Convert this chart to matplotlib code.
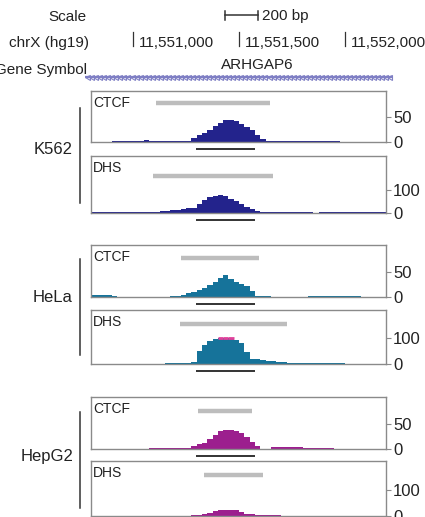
import numpy as np
import matplotlib
matplotlib.use("Agg")
import matplotlib.pyplot as plt
from matplotlib.lines import Line2D
import matplotlib.transforms as mtransforms

plt.rcParams['font.family'] = ['Liberation Sans', 'DejaVu Sans']

# ---------------- data ----------------
x_start, x_end = 11550802, 11552193
bin_start, bin_width = 11550800, 25
n_bins = 56

cell_lines = ["K562", "HeLa", "HepG2"]
track_names = ["CTCF", "DHS"]
colors = {"K562": "#23238c", "HeLa": "#16739a", "HepG2": "#9c1f8e"}

k562_ctcf = [1, 1, 1, 1, 1.5, 1.5, 1.5, 1.5, 1.5, 1.5, 5, 2, 1.5, 1.5, 1.5, 3, 2, 2, 2,
             8, 14, 18, 24, 32, 38, 44, 45, 43, 36, 30, 24, 14, 6, 3,
             2, 2, 2, 2, 2, 2, 2, 1.5, 1.5, 1.5, 1.5, 1.5, 1.5,
             0.5, 0.5, 0.5, 0.5, 0.5, 0.5, 0.5, 0.5, 0.5]
k562_dhs = [6] * 13 + [8, 10, 12, 14, 16, 20, 22,
                       40, 58, 68, 76, 78, 72, 62, 52, 40, 28, 18, 10, 6] + [5] * 9 + [0] + [4] * 13
hela_ctcf = [4, 4, 4, 4, 3] + [0] * 10 + [2, 2, 5, 8, 11, 14, 19, 24, 30, 38, 44, 36, 30, 27, 23, 12, 3, 2, 2] \
    + [1] * 6 + [0.5] + [3] * 6 + [1.5] * 4 + [0] * 5
hela_dhs = [0] * 11 + [1] * 3 + [3] + [4] * 4 + [6] \
    + [50, 72, 88, 95, 100, 100, 100, 92, 80, 45, 20, 18, 14, 12, 11, 8, 7, 2] + [2] * 10 + [0] * 8
hepg2_ctcf = [0] * 11 + [2] + [3] * 7 + [6, 11, 12, 20, 28, 36, 39, 39, 36, 32, 24, 14, 6, 0, 0] \
    + [4] * 6 + [3] * 4 + [1.5] * 2 + [0] * 10
hepg2_dhs = [0] * 19 + [2, 3, 8, 12, 18, 22, 24, 24, 22, 16, 9, 7, 2] + [2] * 4 + [0] * 20

signals = {
    ("K562", "CTCF"): k562_ctcf, ("K562", "DHS"): k562_dhs,
    ("HeLa", "CTCF"): hela_ctcf, ("HeLa", "DHS"): hela_dhs,
    ("HepG2", "CTCF"): hepg2_ctcf, ("HepG2", "DHS"): hepg2_dhs,
}
# peak calls (grey bars)
peaks = {
    ("K562", "CTCF"): (11551109, 11551646), ("K562", "DHS"): (11551094, 11551660),
    ("HeLa", "CTCF"): (11551226, 11551594), ("HeLa", "DHS"): (11551222, 11551727),
    ("HepG2", "CTCF"): (11551307, 11551561), ("HepG2", "DHS"): (11551335, 11551613),
}
region = (11551297, 11551576)  # black bar under each track
ylims = {
    ("K562", "CTCF"): 102, ("K562", "DHS"): 248,
    ("HeLa", "CTCF"): 104, ("HeLa", "DHS"): 205,
    ("HepG2", "CTCF"): 104, ("HepG2", "DHS"): 210,
}
yticks = {"CTCF": [0, 50], "DHS": [0, 100]}
hela_dhs_clip = 100

chrom_ticks = [11551000, 11551500, 11552000]
chrom_tick_labels = ["11,551,000", "11,551,500", "11,552,000"]
gene_name = "ARHGAP6"
gene_label_pos = 11551585
gene_span = (11550774, 11552227)
scale_bar = (11551434, 11551590)
scale_label = "200 bp"

# ---------------- layout ----------------
W, H = 425, 517
fig = plt.figure(figsize=(W / 100, H / 100), dpi=100)


def rect(x0, y0, x1, y1):
    return [x0 / W, 1 - y1 / H, (x1 - x0) / W, (y1 - y0) / H]


panel_px = {
    ("K562", "CTCF"): (91, 142), ("K562", "DHS"): (156, 213),
    ("HeLa", "CTCF"): (245, 297), ("HeLa", "DHS"): (310, 364),
    ("HepG2", "CTCF"): (397, 449), ("HepG2", "DHS"): (461, 516),
}
peak_bar_frac = {
    ("K562", "CTCF"): 0.765, ("K562", "DHS"): 0.65,
    ("HeLa", "CTCF"): 0.75, ("HeLa", "DHS"): 0.74,
    ("HepG2", "CTCF"): 0.73, ("HepG2", "DHS"): 0.745,
}
X0, X1 = 91, 386
edges = bin_start + bin_width * np.arange(n_bins + 1)
txt = "#222222"
spine_c = "#8a8a8a"

for (cl, tr), (y0, y1) in panel_px.items():
    ax = fig.add_axes(rect(X0, y0, X1, y1))
    vals = np.array(signals[(cl, tr)], dtype=float)
    ax.stairs(vals, edges, fill=True, color=colors[cl], lw=0)
    ax.set_xlim(x_start, x_end)
    ax.set_ylim(0, ylims[(cl, tr)])
    if (cl, tr) == ("HeLa", "DHS"):
        m = vals >= hela_dhs_clip
        idx = np.where(m)[0]
        ax.hlines(vals[idx], edges[idx], edges[idx + 1], color="#e0409a", lw=2, zorder=3)
    trans = mtransforms.blended_transform_factory(ax.transData, ax.transAxes)
    p0, p1 = peaks[(cl, tr)]
    ax.plot([p0, p1], [peak_bar_frac[(cl, tr)]] * 2, color="#bdbdbd", lw=3.2,
            solid_capstyle="butt", transform=trans)
    hpx = y1 - y0
    ax.plot(region, [-6.5 / hpx] * 2, color="#111111", lw=1.2, transform=trans,
            clip_on=False, solid_capstyle="butt")
    ax.text(2 / (X1 - X0), 1 - 12 / hpx, tr, transform=ax.transAxes, fontsize=10,
            color=txt, va="center", ha="left")
    for s in ax.spines.values():
        s.set_color(spine_c)
        s.set_linewidth(1)
    ax.set_xticks([])
    ax.yaxis.tick_right()
    ax.set_yticks(yticks[tr])
    ax.tick_params(axis="y", direction="out", length=3.5, width=0.8, color=spine_c,
                   labelsize=12, labelcolor=txt, pad=1.5)

# cell line labels and brackets
cell_lab = {"K562": (150, 108, 203), "HeLa": (297, 259, 355), "HepG2": (457, 412, 508)}
for cl, (yc, yb0, yb1) in cell_lab.items():
    fig.text(73 / W, 1 - yc / H, cl, ha="right", va="center", fontsize=12, color=txt)
    fig.add_artist(Line2D([80 / W, 80 / W], [1 - yb0 / H, 1 - yb1 / H], color="#333333", lw=1.1))

# header
hax = fig.add_axes(rect(X0, 0, X1, 90))
hax.set_xlim(x_start, x_end)
hax.set_ylim(90, 0)
hax.axis("off")

fig.text(86 / W, 1 - 17 / H, "Scale", ha="right", va="center", fontsize=11, color=txt)
fig.text(89 / W, 1 - 43 / H, "chrX (hg19)", ha="right", va="center", fontsize=11, color=txt)
fig.text(87 / W, 1 - 70 / H, "Gene Symbol", ha="right", va="center", fontsize=11, color=txt)

# scale bar
hax.plot(scale_bar, [15, 15], color="#333333", lw=1.1, clip_on=False)
for xb in scale_bar:
    hax.plot([xb, xb], [11, 20], color="#333333", lw=1.1, clip_on=False)
hax.annotate(scale_label, (scale_bar[1], 16), xytext=(3, 0), textcoords="offset points",
             ha="left", va="center", fontsize=11, color=txt)

# chromosome ticks
for pos, lab in zip(chrom_ticks, chrom_tick_labels):
    hax.plot([pos, pos], [32, 46], color="#333333", lw=0.9, clip_on=False)
    hax.annotate(lab, (pos, 43), xytext=(4, 0), textcoords="offset points",
                 ha="left", va="center", fontsize=11, color=txt)

# gene
gene_c = "#7f7fc4"
hax.plot(gene_span, [77, 77], color=gene_c, lw=1.6, clip_on=False, solid_capstyle="butt")
marks = np.arange(gene_span[0] + 10, gene_span[1] - 5, 19)
hax.plot(marks, np.full(len(marks), 77), ls="none", marker="<", markersize=3.6,
         markerfacecolor="none", markeredgecolor=gene_c, markeredgewidth=0.8, clip_on=False)
hax.text(gene_label_pos, 65, gene_name, ha="center", va="center",
         fontsize=11, color=txt)

fig.savefig("out.png", dpi=100)
